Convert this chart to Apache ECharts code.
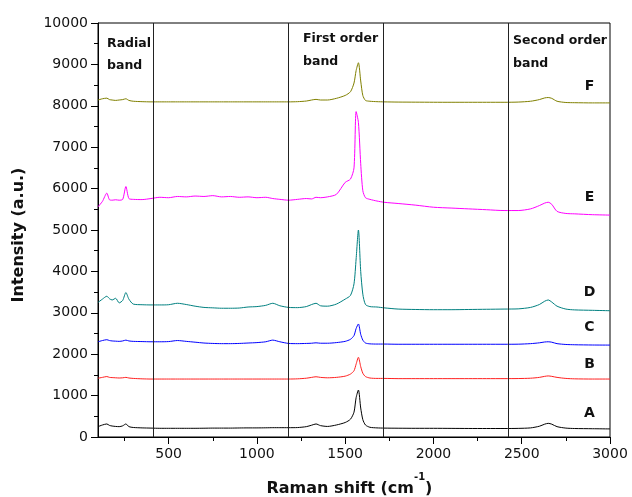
<!DOCTYPE html>
<html>
<head>
<meta charset="utf-8">
<script src="https://cdn.jsdelivr.net/npm/echarts@6/dist/echarts.min.js"></script>
<style>
  html, body { margin: 0; padding: 0; background: #fff; }
  #chart { width: 632px; height: 497px; }
</style>
</head>
<body>
<div id="chart"></div>
<script>
// Raman shift sampling points (cm^-1), shared by all six spectra
const shifts = [
  100, 125, 150, 165, 180, 200, 220, 240, 258, 275,
  300, 350, 400, 450, 500, 550, 600, 650, 700, 750,
  800, 850, 900, 950, 1000, 1050, 1090, 1130, 1180, 1230,
  1280, 1310, 1335, 1360, 1400, 1450, 1500, 1530, 1550, 1562,
  1575, 1588, 1600, 1615, 1640, 1680, 1720, 1800, 1900, 2000,
  2100, 2200, 2300, 2400, 2480, 2550, 2600, 2630, 2650, 2670,
  2700, 2750, 2800, 2900, 3000
];

// Intensities (a.u.), one array per sample, stacked with offsets
const spectrumA = [
  250, 290, 315, 280, 265, 255, 250, 270, 315, 250,
  230, 220, 215, 210, 210, 210, 210, 210, 212, 215,
  215, 215, 218, 220, 220, 222, 225, 225, 225, 228,
  250, 285, 315, 275, 255, 290, 350, 430, 600, 950,
  1135, 700, 420, 290, 235, 220, 215, 212, 210, 210,
  208, 206, 205, 205, 208, 220, 260, 310, 330, 310,
  250, 215, 205, 200, 195
];
const spectrumB = [
  1420, 1440, 1460, 1440, 1435, 1430, 1425, 1430, 1440, 1425,
  1415, 1405, 1400, 1400, 1400, 1400, 1400, 1400, 1400, 1400,
  1400, 1400, 1400, 1400, 1400, 1400, 1400, 1400, 1400, 1405,
  1420, 1440, 1455, 1440, 1430, 1440, 1470, 1520, 1600, 1760,
  1925, 1700, 1540, 1460, 1425, 1415, 1415, 1410, 1410, 1410,
  1410, 1410, 1410, 1410, 1412, 1420, 1440, 1465, 1475, 1465,
  1440, 1415, 1405, 1400, 1400
];
const spectrumC = [
  2300, 2330, 2350, 2330, 2320, 2315, 2310, 2320, 2340, 2320,
  2310, 2305, 2300, 2300, 2305, 2330, 2310, 2290, 2270, 2260,
  2255, 2255, 2260, 2270, 2280, 2300, 2340, 2300, 2260, 2255,
  2260, 2265, 2275, 2265, 2265, 2280, 2310, 2360, 2450, 2620,
  2730, 2480, 2340, 2270, 2250, 2245, 2245, 2240, 2240, 2240,
  2240, 2240, 2240, 2240, 2242, 2255, 2275, 2295, 2300, 2290,
  2255, 2235, 2228, 2222, 2220
];
const spectrumD = [
  3250, 3330, 3400, 3340, 3310, 3350, 3240, 3300, 3490, 3330,
  3210, 3195, 3190, 3190, 3195, 3230, 3200, 3160, 3130, 3120,
  3110, 3110, 3115, 3140, 3150, 3180, 3230, 3170, 3130, 3125,
  3150, 3200, 3230, 3170, 3160, 3210, 3330, 3420, 3700, 4300,
  5000, 4000, 3450, 3200, 3150, 3140, 3120, 3090, 3080, 3075,
  3075, 3080, 3085, 3090, 3095, 3130, 3200, 3280, 3310, 3260,
  3160, 3090, 3070, 3060, 3050
];
const spectrumE = [
  5560, 5690, 5890, 5730, 5720, 5730, 5720, 5740, 6050, 5760,
  5740, 5735, 5760, 5790, 5780, 5810, 5800, 5820, 5810, 5830,
  5800, 5810, 5790, 5800, 5780, 5790, 5760, 5740, 5720, 5740,
  5760, 5750, 5790, 5780, 5800, 5860, 6150, 6230, 6500, 7860,
  7600, 6600, 5950, 5780, 5740, 5700, 5670, 5640, 5600, 5550,
  5530, 5510, 5490, 5470, 5470, 5510, 5590, 5650, 5670, 5620,
  5450, 5400, 5390, 5370, 5360
];
const spectrumF = [
  8140, 8170, 8185, 8150, 8140, 8130, 8140, 8150, 8170, 8130,
  8110, 8100, 8095, 8095, 8095, 8095, 8095, 8095, 8095, 8095,
  8095, 8095, 8095, 8095, 8095, 8095, 8095, 8095, 8095, 8100,
  8115, 8140, 8155, 8140, 8140, 8180, 8250, 8340, 8550, 8850,
  9040, 8600, 8250, 8130, 8110, 8100, 8095, 8090, 8088, 8086,
  8085, 8085, 8085, 8085, 8090, 8110, 8150, 8190, 8200, 8180,
  8110, 8080, 8075, 8070, 8070
];

const sampleNames = ['A', 'B', 'C', 'D', 'E', 'F'];
const sampleColors = ['#000000', '#ff2020', '#0000ff', '#008080', '#ff00ff', '#808000'];
const spectra = [spectrumA, spectrumB, spectrumC, spectrumD, spectrumE, spectrumF];

// Boundaries between the radial, first order and second order regions
const bandEdges = [415, 1180, 1716, 2424];

// Axis ticks
const xMajorTicks = [500, 1000, 1500, 2000, 2500, 3000];
const xMinorTicks = [250, 750, 1250, 1750, 2250, 2750];

const FONT = 'DejaVu Sans';
const plainNumber = v => String(Math.round(v));

const chart = echarts.init(document.getElementById('chart'), null, { renderer: 'canvas' });

const series = spectra.map((vals, i) => ({
  name: sampleNames[i],
  type: 'line',
  xAxisIndex: 0,
  yAxisIndex: 0,
  showSymbol: false,
  symbol: 'none',
  smooth: 0.25,
  lineStyle: { color: sampleColors[i], width: 1 },
  itemStyle: { color: sampleColors[i] },
  data: shifts.map((s, k) => [s, vals[k]]),
  z: 3
}));

series[0].markLine = {
  silent: true,
  symbol: ['none', 'none'],
  animation: false,
  label: { show: false },
  lineStyle: { color: '#222', width: 1, type: 'solid' },
  data: bandEdges.map(v => ({ xAxis: v }))
};

const bandText = (x, y, t) => ({
  type: 'text', x: x, y: y,
  style: { text: t, fill: '#111', font: 'bold 12.5px "' + FONT + '"', textVerticalAlign: 'middle' }
});
const sampleLabelY = { F: 86, E: 197, D: 292, C: 327, B: 364, A: 413 };

const graphics = [
  bandText(107, 44, 'Radial'), bandText(107, 66, 'band'),
  bandText(303, 39, 'First order'), bandText(303, 62, 'band'),
  bandText(513, 41, 'Second order'), bandText(513, 64, 'band')
];
sampleNames.forEach(n => graphics.push({
  type: 'text', x: 589.5, y: sampleLabelY[n],
  style: { text: n, fill: '#111', font: 'bold 14px "' + FONT + '"', textAlign: 'center', textVerticalAlign: 'middle' }
}));
// Axis titles
graphics.push({
  type: 'text', x: 19, y: 235, rotation: Math.PI / 2,
  style: { text: 'Intensity (a.u.)', fill: '#111', font: 'bold 16px "' + FONT + '"', textAlign: 'center', textVerticalAlign: 'middle' }
});
graphics.push({
  type: 'text', x: 414, y: 489,
  style: { text: 'Raman shift (cm', fill: '#111', font: 'bold 16px "' + FONT + '"', textAlign: 'right', textVerticalAlign: 'middle' }
});
graphics.push({
  type: 'text', x: 414, y: 477,
  style: { text: '-1', fill: '#111', font: 'bold 10px "' + FONT + '"', textAlign: 'left', textVerticalAlign: 'middle' }
});
graphics.push({
  type: 'text', x: 425, y: 489,
  style: { text: ')', fill: '#111', font: 'bold 16px "' + FONT + '"', textAlign: 'left', textVerticalAlign: 'middle' }
});

const option = {
  backgroundColor: '#ffffff',
  animation: false,
  grid: { left: 98, right: 22, top: 23, bottom: 60, show: true, borderColor: '#000', borderWidth: 1, backgroundColor: 'transparent' },
  xAxis: [
    {
      type: 'value', min: 100, max: 3000, position: 'bottom',
      axisLine: { show: true, onZero: false, lineStyle: { color: '#000', width: 1 } },
      axisTick: { show: true, customValues: xMajorTicks, length: 7, lineStyle: { color: '#000' } },
      axisLabel: { customValues: xMajorTicks, formatter: plainNumber, margin: 10, fontSize: 14, fontFamily: FONT, color: '#111' },
      splitLine: { show: false }
    },
    {
      type: 'value', min: 100, max: 3000, position: 'bottom',
      axisLine: { show: false },
      axisTick: { show: true, customValues: xMinorTicks, length: 4, lineStyle: { color: '#000' } },
      axisLabel: { show: false },
      splitLine: { show: false }
    }
  ],
  yAxis: [
    {
      type: 'value', min: 0, max: 10000, interval: 1000,
      axisLine: { show: true, onZero: false, lineStyle: { color: '#000', width: 1 } },
      axisTick: { show: true, length: 7, lineStyle: { color: '#000' } },
      minorTick: { show: true, splitNumber: 2, length: 4, lineStyle: { color: '#000' } },
      axisLabel: { formatter: plainNumber, margin: 10, fontSize: 14, fontFamily: FONT, color: '#111' },
      splitLine: { show: false },
      minorSplitLine: { show: false }
    }
  ],
  series: series,
  graphic: graphics
};

chart.setOption(option);
</script>
</body>
</html>
